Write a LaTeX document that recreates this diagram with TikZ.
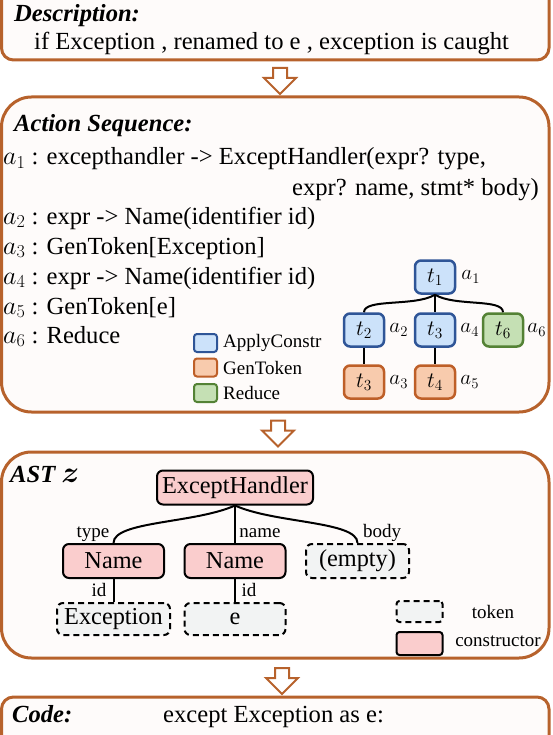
\documentclass[tikz,border=0pt]{standalone}
\usepackage{fix-cm}
\usepackage{amsmath}
\usepackage{fontspec}
\setmainfont{Liberation Serif}
\usetikzlibrary{positioning,shapes.arrows}

\definecolor{framebrown}{RGB}{183,98,44}
\definecolor{framefill}{RGB}{254,251,250}
\definecolor{applyblue}{RGB}{47,85,151}
\definecolor{applyfill}{RGB}{204,226,250}
\definecolor{genorange}{RGB}{190,95,40}
\definecolor{genfill}{RGB}{248,203,173}
\definecolor{redgreen}{RGB}{84,130,53}
\definecolor{redfill}{RGB}{197,224,180}
\definecolor{consfill}{RGB}{250,205,205}
\definecolor{tokfill}{RGB}{242,243,243}

% bigger math letters, close to the look of the original
\newcommand{\actsym}[3][26]{{\fontsize{#1}{28}\selectfont$#2_{#3}$}}

\tikzset{
  panel/.style={draw=framebrown, line width=3pt, fill=framefill, rounded corners=#1},
  downarrow/.style={single arrow, draw=framebrown, fill=white, line width=2pt, rotate=-90,
    minimum height=26pt, inner sep=6pt, single arrow head extend=9pt},
  txt/.style={font=\fontsize{24.6}{28}\selectfont, inner sep=0pt, anchor=base west},
  heading/.style={txt, font=\fontsize{24.6}{28}\selectfont\bfseries\itshape},
  smalltxt/.style={font=\fontsize{19}{22}\selectfont, inner sep=0pt},
  tnode/.style={rounded corners=6pt, line width=2.5pt, minimum width=40pt, minimum height=33pt,
    inner sep=0pt},
  applybox/.style={tnode, draw=applyblue, fill=applyfill},
  genbox/.style={tnode, draw=genorange, fill=genfill},
  reducebox/.style={tnode, draw=redgreen, fill=redfill},
  alabel/.style={inner sep=0pt},
  keybox/.style={rounded corners=3pt, line width=2pt, minimum width=23pt, minimum height=18pt, inner sep=0pt},
  astnode/.style={rounded corners=6pt, line width=2pt, minimum height=34pt, inner sep=0pt,
    font=\fontsize{24.3}{28}\selectfont},
  cons/.style={astnode, draw=black, fill=consfill},
  token/.style={astnode, draw=black, dash pattern=on 6pt off 4pt, fill=tokfill},
  link/.style={line width=2pt}
}

\begin{document}
\begin{tikzpicture}[x=1pt,y=-1pt]
  \useasboundingbox (0,0) rectangle (553,735);
  \clip (0,0) rectangle (553,735);

  % panels
  \draw[panel=12pt] (1.5,-20) rectangle (549,60);
  \draw[panel=30pt] (1.5,97) rectangle (549,412);
  \draw[panel=30pt] (1.5,452) rectangle (549,658);
  \draw[panel=12pt] (1.5,697) rectangle (549,760);

  \node[downarrow] (arr1) at (280,77.5) {};
  \node[downarrow] (arr2) at (278,430) {};
  \node[downarrow] (arr3) at (282,677.5) {};

  % description
  \node[heading] (deschead) at (14,22) {Description:};
  \node[txt] (desctext) at (34,50) {if Exception , renamed to e , exception is caught};

  % action sequence
  \node[heading] (acthead) at (14,132) {Action Sequence:};
  \node[txt] (act1) at (3,165) {\actsym{a}{1} : excepthandler -> ExceptHandler(expr? type,};
  \node[txt, anchor=base east] (act1b) at (539,196) {expr? name, stmt* body)};
  \node[txt] (act2) at (3,224) {\actsym{a}{2} : expr -> Name(identifier id)};
  \node[txt] (act3) at (3,254) {\actsym{a}{3} : GenToken[Exception]};
  \node[txt] (act4) at (3,284) {\actsym{a}{4} : expr -> Name(identifier id)};
  \node[txt] (act5) at (3,314) {\actsym{a}{5} : GenToken[e]};
  \node[txt] (act6) at (3,343) {\actsym{a}{6} : Reduce};

  \node[keybox, draw=applyblue, fill=applyfill] (applykey) at (205.5,343) {};
  \node[keybox, draw=genorange, fill=genfill] (genkey) at (205.5,367.5) {};
  \node[keybox, draw=redgreen, fill=redfill] (redkey) at (205.5,393) {};
  \node[smalltxt, right=5pt of applykey] {ApplyConstr};
  \node[smalltxt, right=5pt of genkey] {GenToken};
  \node[smalltxt, right=5pt of redkey] {Reduce};

  \node[applybox] (t1) at (435,277) {\actsym[22]{t}{1}};
  \node[applybox] (t2) at (364,330) {\actsym[22]{t}{2}};
  \node[applybox] (t3a) at (435,330) {\actsym[22]{t}{3}};
  \node[reducebox] (t6) at (503,330) {\actsym[22]{t}{6}};
  \node[genbox] (t3b) at (364,382) {\actsym[22]{t}{3}};
  \node[genbox] (t4) at (435,382) {\actsym[22]{t}{4}};
  \node[alabel, right=5pt of t1] {\actsym[21]{a}{1}};
  \node[alabel, right=4pt of t2] {\actsym[21]{a}{2}};
  \node[alabel, right=4pt of t3a] {\actsym[21]{a}{4}};
  \node[alabel, right=3pt of t6] {\actsym[21]{a}{6}};
  \node[alabel, right=4pt of t3b] {\actsym[21]{a}{3}};
  \node[alabel, right=4pt of t4] {\actsym[21]{a}{5}};

  \draw[link] (t1.south) .. controls +(-20,12) and +(0,-14) .. (t2.north);
  \draw[link] (t1.south) -- (t3a.north);
  \draw[link] (t1.south) .. controls +(20,12) and +(0,-14) .. (t6.north);
  \draw[link] (t2.south) -- (t3b.north);
  \draw[link] (t3a.south) -- (t4.north);

  % AST
  \node[heading] (asthead) at (10,482) {AST \actsym[30]{\boldsymbol{z}}{}};
  \node[cons, minimum width=156pt] (handler) at (235,487.5) {ExceptHandler};
  \node[cons, minimum width=101pt] (typename) at (113.5,561) {Name};
  \node[cons, minimum width=101pt] (idname) at (235,561) {Name};
  \node[token, minimum width=103pt] (emptybody) at (357.5,561) {(empty)};
  \node[token, minimum width=113pt, minimum height=32pt] (exctok) at (113.5,619) {Exception};
  \node[token, minimum width=101pt, minimum height=32pt] (etok) at (235,619) {e};

  \draw[link] (handler.south) .. controls +(-40,18) and +(0,-22) .. (typename.north);
  \draw[link] (handler.south) -- (idname.north);
  \draw[link] (handler.south) .. controls +(40,18) and +(0,-22) .. (emptybody.north);
  \draw[link] (typename.south) -- (exctok.north);
  \draw[link] (idname.south) -- (etok.north);

  \node[smalltxt, anchor=base] (typelbl) at (93,537) {type};
  \node[smalltxt, anchor=base] (namelbl) at (260,537) {name};
  \node[smalltxt, anchor=base] (bodylbl) at (382,537) {body};
  \node[smalltxt, anchor=base] (idlbla) at (99,596) {id};
  \node[smalltxt, anchor=base] (idlblb) at (249,596) {id};

  \node[keybox, draw=black, dash pattern=on 6pt off 4pt, fill=tokfill,
    minimum width=46pt, minimum height=21pt] (tokkey) at (419.5,611.5) {};
  \node[keybox, draw=black, fill=consfill, minimum width=46pt, minimum height=23pt] (conskey) at (419.5,643.5) {};
  \node[smalltxt] (tokkeylbl) at (493,612) {token};
  \node[smalltxt] (conskeylbl) at (498,641) {constructor};

  % code
  \node[heading] (codehead) at (12,722) {Code:};
  \node[txt] (codetext) at (163,722) {except Exception as e:};
\end{tikzpicture}
\end{document}
